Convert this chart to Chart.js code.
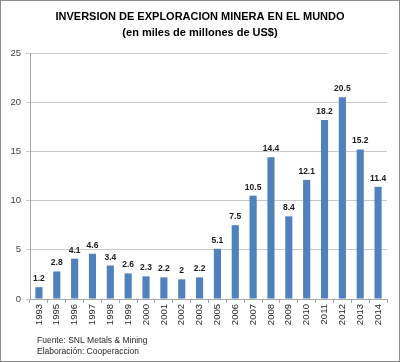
<!DOCTYPE html>
<html>
<head>
<meta charset="utf-8">
<style>
  html, body { margin: 0; padding: 0; background: #fff; }
  #wrap { width: 400px; height: 362px; position: relative; }
</style>
<script src="https://cdn.jsdelivr.net/npm/chart.js@4/dist/chart.umd.min.js"></script>
</head>
<body>
<div id="wrap"><canvas id="chart" width="400" height="362"></canvas></div>
<script>
// datos del grafico
const years = ["1993", "1995", "1996", "1997", "1998", "1999", "2000", "2001", "2002", "2003",
  "2005", "2006", "2007", "2008", "2009", "2010", "2011", "2012", "2013", "2014"];
const inversion = [1.2, 2.8, 4.1, 4.6, 3.4, 2.6, 2.3, 2.2, 2, 2.2,
  5.1, 7.5, 10.5, 14.4, 8.4, 12.1, 18.2, 20.5, 15.2, 11.4];
const yTicks = [0, 5, 10, 15, 20, 25];
const titleLines = ["INVERSION DE EXPLORACION MINERA EN EL MUNDO", "(en miles de millones de US$)"];
const notes = ["Fuente: SNL Metals & Mining", "Elaboración: Cooperaccion"];

const FONT = "'Liberation Sans', Arial, sans-serif";

// titulo, etiquetas de valores, notas y marco
const decor = {
  id: "decor",
  afterDatasetsDraw(chart) {
    const ctx = chart.ctx;
    const meta = chart.getDatasetMeta(0);
    ctx.save();
    ctx.fillStyle = "#1a1a1a";
    ctx.font = "bold 8.5px " + FONT;
    ctx.textAlign = "center";
    ctx.textBaseline = "alphabetic";
    meta.data.forEach((bar, i) => {
      ctx.fillText(String(inversion[i]), bar.x, bar.y - 6);
    });
    ctx.restore();
  },
  afterDraw(chart) {
    const ctx = chart.ctx;
    ctx.save();
    ctx.fillStyle = "#000";
    ctx.font = "bold 11px " + FONT;
    ctx.textAlign = "center";
    ctx.textBaseline = "middle";
    ctx.fillText(titleLines[0], 200, 17);
    ctx.fillText(titleLines[1], 200, 33);

    ctx.font = "8.5px " + FONT;
    ctx.fillStyle = "#262626";
    ctx.textAlign = "left";
    ctx.fillText(notes[0], 37, 341);
    ctx.fillText(notes[1], 37, 352);

    ctx.strokeStyle = "#8c8c8c";
    ctx.lineWidth = 1;
    ctx.strokeRect(0.5, 0.5, 399, 361);
    ctx.restore();
  }
};

new Chart(document.getElementById("chart"), {
  type: "bar",
  data: {
    labels: years,
    datasets: [{
      data: inversion,
      backgroundColor: "#4f81bd",
      borderWidth: 0,
      barPercentage: 0.8,
      categoryPercentage: 0.5
    }]
  },
  options: {
    responsive: false,
    animation: false,
    events: [],
    layout: { padding: { top: 53, right: 13, left: 0, bottom: 0 } },
    plugins: {
      legend: { display: false },
      tooltip: { enabled: false },
      title: { display: false }
    },
    scales: {
      x: {
        grid: {
          offset: true,
          drawOnChartArea: false,
          drawTicks: true,
          tickLength: 4,
          color: "#a6a6a6"
        },
        border: { color: "#a6a6a6" },
        ticks: {
          minRotation: 90,
          maxRotation: 90,
          padding: 1,
          color: "#262626",
          font: { family: FONT, size: 9.5 }
        },
        afterFit(scale) { scale.height = 63; }
      },
      y: {
        min: 0,
        max: 25,
        afterBuildTicks(scale) { scale.ticks = yTicks.map(v => ({ value: v })); },
        grid: { color: "#c8c8c8", tickLength: 4, drawTicks: true },
        border: { color: "#a6a6a6" },
        ticks: {
          padding: 5,
          color: "#404040",
          font: { family: FONT, size: 9.5 }
        },
        afterFit(scale) { scale.width = 30; }
      }
    }
  },
  plugins: [decor]
});
</script>
</body>
</html>
